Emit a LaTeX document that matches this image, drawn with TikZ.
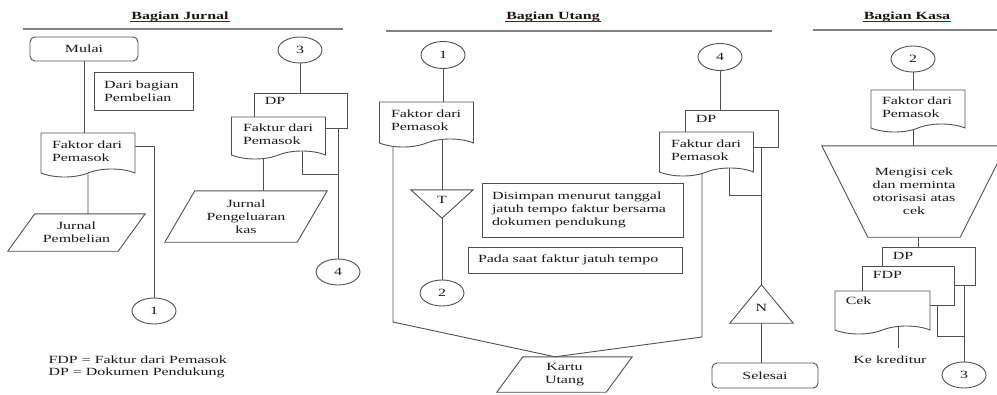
\documentclass[tikz,border=0pt]{standalone}
\usepackage{fontspec}
\setmainfont{Liberation Serif}[FakeStretch=1.45]
\usetikzlibrary{shapes.geometric,shapes.symbols,backgrounds}
\definecolor{lc}{HTML}{505050}
\begin{document}
\begin{tikzpicture}[x=1pt,y=-1pt,
  every node/.style={font=\fontsize{11}{13}\selectfont, text=black!90},
  ln/.style={draw=lc, line width=0.9pt},
  sep/.style={draw=black!50, line width=1.1pt},
  hd/.style={font=\fontsize{11}{13}\selectfont\bfseries, inner sep=1pt},
  box/.style={rectangle, draw=lc, line width=0.9pt, fill=white, align=left, inner xsep=10pt},
  term/.style={rectangle, rounded corners=5pt, draw=lc, line width=0.9pt, fill=white, inner sep=0pt},
  conn/.style={ellipse, draw=lc, line width=0.9pt, fill=white, minimum width=44pt, minimum height=26pt, inner sep=0pt},
  docu/.style={tape, tape bend top=none, tape bend bottom=in and out, tape bend height=8pt, draw=lc, line width=0.9pt, fill=white, align=left, inner xsep=11pt, minimum width=94pt},
  plain/.style={rectangle, inner sep=0pt, align=center},
  tag/.style={anchor=north west, inner sep=0pt},
]
\useasboundingbox (0,0) rectangle (997,394);
\clip (0,0) rectangle (997,394);

% headers and separators
\node[hd] (hJ) at (180,17) {Bagian Jurnal};
\node[hd] (hU) at (553,17) {Bagian Utang};
\node[hd] (hK) at (907,17) {Bagian Kasa};
\foreach \h in {hJ,hU,hK}{
  \draw[red!60!black, line width=0.6pt] ([yshift=-1.8pt]\h.base west) -- ([yshift=-1.8pt]\h.base east);
}
\draw[sep] (23,29) -- (343,29);
\draw[sep] (386,31) -- (772,31);
\draw[sep] (813,30) -- (997,30);

% ---------------- Bagian Jurnal
\node[term, minimum width=108pt, minimum height=24pt] (mulai) at (84,49) {Mulai};
\node[box, text width=79pt, minimum height=38pt] (dari) at (143.5,91) {Dari bagian\\Pembelian};
\node[docu, text width=72pt, minimum height=44pt] (fj1) at (88,151) {Faktor dari\\Pemasok};
\node[conn] (c1) at (154,311) {1};
\node[plain, minimum width=110pt, minimum height=37pt] (jp) at (76.5,232.5) {Jurnal\\Pembelian};
\draw[ln] ([xshift=13.5pt]jp.north west) -- ([xshift=13.5pt]jp.north east) -- ([xshift=-13.5pt]jp.south east) -- ([xshift=-13.5pt]jp.south west) -- cycle;

\node[conn] (c3) at (300,50) {3};
\node[box, minimum width=93pt, minimum height=35pt] (dp1) at (300.5,110.5) {};
\node[tag] (dp1t) at ([xshift=11pt,yshift=-5pt]dp1.north west) {DP};
\node[docu, text width=71pt, minimum height=42pt] (fj2) at (278.5,134) {Faktur dari\\Pemasok};
\node[conn] (c4j) at (338,272) {4};
\node[plain, minimum width=132pt, minimum height=51pt] (jpk) at (246,216.5) {Jurnal\\Pengeluaran\\kas};
\draw[ln] ([xshift=15pt]jpk.north west) -- ([xshift=15pt]jpk.north east) -- ([xshift=-15pt]jpk.south east) -- ([xshift=-15pt]jpk.south west) -- cycle;

\node[anchor=west, align=left, font=\fontsize{11}{12}\selectfont] (leg) at (45,367) {FDP = Faktur dari Pemasok\\DP = Dokumen Pendukung};

% ---------------- Bagian Utang
\node[conn, minimum height=27pt] (cu1) at (443,55) {1};
\node[docu, text width=71pt, minimum height=45pt] (fu1) at (426.5,120.5) {Faktor dari\\Pemasok};
\node[plain, minimum width=62pt, minimum height=28pt, label={[yshift=4pt]center:T}] (tT) at (442,204) {};
\draw[ln] (tT.north west) -- (tT.north east) -- (tT.south) -- cycle;
\node[conn] (cu2) at (442,293) {2};
\node[box, text width=181pt, minimum height=54pt] (dis) at (582.5,210) {Disimpan menurut tanggal\\jatuh tempo faktur bersama\\dokumen pendukung};
\node[box, text width=194pt, minimum height=26pt] (pada) at (575,260) {Pada saat faktur jatuh tempo};
\node[plain, minimum width=109pt, minimum height=35pt] (ku) at (564.5,374.5) {Kartu\\Utang};
\draw[ln] ([xshift=13pt]ku.north west) -- ([xshift=13pt]ku.north east) -- ([xshift=-13pt]ku.south east) -- ([xshift=-13pt]ku.south west) -- cycle;
\coordinate (km) at ([xshift=-9.5pt]ku.north);

\node[conn, minimum height=27pt] (cu4) at (720,57) {4};
\node[box, minimum width=93pt, minimum height=37pt] (dpu) at (731.5,128.5) {};
\node[tag] (dput) at ([xshift=11pt,yshift=-6pt]dpu.north west) {DP};
\node[docu, text width=71pt, minimum height=44pt] (fu2) at (706.5,150) {Faktur dari\\Pemasok};
\node[plain, minimum width=63pt, minimum height=38pt, label={[yshift=-4pt]center:N}] (tN) at (761.5,304) {};
\draw[ln] (tN.south west) -- (tN.south east) -- (tN.north) -- cycle;
\node[term, minimum width=106pt, minimum height=25pt] (sel) at (765,375.5) {Selesai};

% ---------------- Bagian Kasa
\node[conn] (ck2) at (913,59) {2};
\node[docu, text width=72pt, minimum height=42pt] (fk) at (918,107) {Faktor dari\\Pemasok};
\node[plain, minimum width=92pt, minimum height=91pt] (mg) at (914,191.5) {Mengisi cek\\dan meminta\\otorisasi atas\\cek};
\draw[ln] ([xshift=-46pt]mg.north west) -- ([xshift=46pt]mg.north east) -- (mg.south east) -- (mg.south west) -- cycle;
\node[box, minimum width=93pt, minimum height=38pt] (dpk) at (928.5,266) {};
\node[tag] (dpkt) at ([xshift=11pt,yshift=-6pt]dpk.north west) {DP};
\node[box, minimum width=92pt, minimum height=39pt] (fdp) at (908,285.5) {};
\node[tag] (fdpt) at ([xshift=11pt,yshift=-6pt]fdp.north west) {FDP};
\node[docu, minimum width=95pt, minimum height=43pt] (cek) at (882.5,308.5) {};
\node[tag] (cekt) at ([xshift=11pt,yshift=-6pt]cek.north west) {Cek};
\node[conn] (ck3) at (964,375) {3};
\node (ked) at (890,360) {Ke kreditur};

% ---------------- connectors (behind shapes)
\begin{scope}[on background layer]
  % Jurnal
  \draw[ln] (mulai) -- (mulai |- fj1);
  \draw[ln] ([yshift=5pt]fj1.center) -| (c1);
  \draw[ln] (fj1) -- (fj1 |- jp.north);
  \draw[ln] (c3) -- (c3 |- dp1);
  \draw[ln] (dp1 -| c4j) -- (c4j);
  \coordinate (jj1) at (338,174);
  \draw[ln] ([xshift=23.5pt]fj2.center) |- (jj1);
  \coordinate (ja) at ([xshift=-15.5pt]fj2.center);
  \draw[ln] (ja) -- (ja |- jpk.north);
  % Utang
  \draw[ln] (cu1) -- (cu1 |- fu1);
  \draw[ln] (tT.north |- fu1.center) -- (tT.north);
  \draw[ln] (tT.south) -- (cu2);
  \coordinate (u1) at ([xshift=-33.5pt]fu1.center);
  \draw[ln] (u1) -- (u1 |- 0,322) -- (km);
  \coordinate (u2) at ([xshift=-4.5pt]fu2.center);
  \draw[ln] (u2) -- (u2 |- 0,337) -- (km);
  \draw[ln] (cu4) -- (cu4 |- dpu);
  \draw[ln] (dpu -| tN) -- (tN.north);
  \coordinate (u3) at ([xshift=22.5pt]fu2.center);
  \draw[ln] (u3) |- (tN |- 0,195);
  \draw[ln] (tN.south) -- (tN.south |- sel.north);
  % Kasa
  \draw[ln] (ck2) -- (ck2 |- fk);
  \draw[ln] (fk.center -| ck2) -- (ck2 |- mg.north);
  \coordinate (ka) at ([xshift=4pt]mg.south);
  \draw[ln] (ka) -- (ka |- dpk.north);
  \draw[ln] (dpk -| ck3) -- (ck3);
  \coordinate (kb) at (937,336);
  \draw[ln] (fdp -| kb) -- (kb) -- (kb -| ck3);
  \coordinate (kc) at (898,348);
  \draw[ln] (cek.center -| kc) -- (kc);
\end{scope}
\end{tikzpicture}
\end{document}
